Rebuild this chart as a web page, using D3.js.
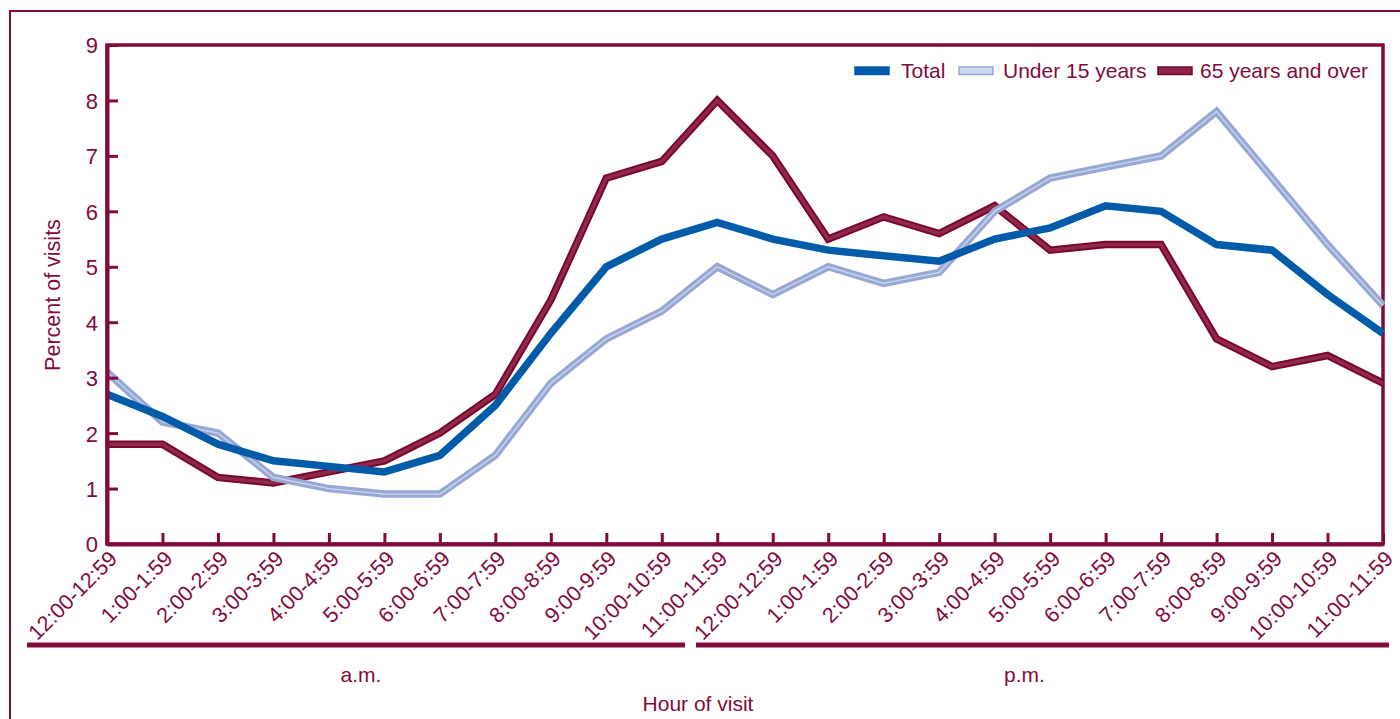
<!DOCTYPE html>
<html>
<head>
<meta charset="utf-8">
<script src="https://cdn.jsdelivr.net/npm/d3@7"></script>
<style>
  body { margin: 0; background: #fff; }
  svg text { font-family: "Liberation Sans", Arial, Helvetica, sans-serif; fill: #820a3c; }
</style>
</head>
<body>
<div id="chart"></div>
<script>
// hour ranges, first 12 are a.m., last 12 are p.m.
var hours = ["12:00-12:59", "1:00-1:59", "2:00-2:59", "3:00-3:59", "4:00-4:59", "5:00-5:59",
             "6:00-6:59", "7:00-7:59", "8:00-8:59", "9:00-9:59", "10:00-10:59", "11:00-11:59",
             "12:00-12:59", "1:00-1:59", "2:00-2:59", "3:00-3:59", "4:00-4:59", "5:00-5:59",
             "6:00-6:59", "7:00-7:59", "8:00-8:59", "9:00-9:59", "10:00-10:59", "11:00-11:59"];

var total   = [2.7, 2.3, 1.8, 1.5, 1.4, 1.3, 1.6, 2.5, 3.8, 5.0, 5.5, 5.8,
               5.5, 5.3, 5.2, 5.1, 5.5, 5.7, 6.1, 6.0, 5.4, 5.3, 4.5, 3.8];
var under15 = [3.1, 2.2, 2.0, 1.2, 1.0, 0.9, 0.9, 1.6, 2.9, 3.7, 4.2, 5.0,
               4.5, 5.0, 4.7, 4.9, 6.0, 6.6, 6.8, 7.0, 7.8, 6.6, 5.4, 4.3];
var over65  = [1.8, 1.8, 1.2, 1.1, 1.3, 1.5, 2.0, 2.7, 4.4, 6.6, 6.9, 8.0,
               7.0, 5.5, 5.9, 5.6, 6.1, 5.3, 5.4, 5.4, 3.7, 3.2, 3.4, 2.9];

var seriesNames = ["Total", "Under 15 years", "65 years and over"];
var periods = ["a.m.", "p.m."];
var yTicks = [0, 1, 2, 3, 4, 5, 6, 7, 8, 9];

var maroon = "#820a3c";
var width = 1400, height = 719;

var svg = d3.select("#chart").append("svg")
    .attr("width", width)
    .attr("height", height);

// outer frame (runs off the right and bottom edges)
svg.append("rect")
    .attr("x", 10).attr("y", 11)
    .attr("width", 1400).attr("height", 720)
    .attr("fill", "none")
    .attr("stroke", maroon)
    .attr("stroke-width", 2);

var x = d3.scaleLinear().domain([0, hours.length - 1]).range([107, 1383]);
var y = d3.scaleLinear().domain([0, 9]).range([544, 45]);

// plot box
svg.append("rect")
    .attr("x", x(0)).attr("y", y(9))
    .attr("width", x(23) - x(0)).attr("height", y(0) - y(9))
    .attr("fill", "none")
    .attr("stroke", maroon)
    .attr("stroke-width", 3.5);

var line = d3.line()
    .x(function(d, i) { return x(i); })
    .y(function(d) { return y(d); });

// 65 and over: dark outline with lighter core
svg.append("path").datum(over65)
    .attr("d", line).attr("fill", "none")
    .attr("stroke", "#7a0530").attr("stroke-width", 7.5);
svg.append("path").datum(over65)
    .attr("d", line).attr("fill", "none")
    .attr("stroke", "#8e2a48").attr("stroke-width", 3.5);

// under 15: light blue with pale core
svg.append("path").datum(under15)
    .attr("d", line).attr("fill", "none")
    .attr("stroke", "#97a8d5").attr("stroke-width", 7.5);
svg.append("path").datum(under15)
    .attr("d", line).attr("fill", "none")
    .attr("stroke", "#cfd8ed").attr("stroke-width", 1.3);

// total
svg.append("path").datum(total)
    .attr("d", line).attr("fill", "none")
    .attr("stroke", "#005ca8").attr("stroke-width", 7.5);

// y axis
var yAxis = svg.append("g")
    .attr("transform", "translate(" + x(0) + ",0)")
    .call(d3.axisLeft(y).tickValues(yTicks).tickSize(-11).tickSizeOuter(0).tickPadding(9));
yAxis.select(".domain").attr("stroke", maroon).attr("stroke-width", 4);
yAxis.selectAll(".tick line").attr("stroke", maroon).attr("stroke-width", 3);
yAxis.selectAll(".tick text").style("font-size", "22px").attr("dy", "0.36em");

// x axis
var xAxis = svg.append("g")
    .attr("transform", "translate(0," + y(0) + ")")
    .call(d3.axisBottom(x).tickValues(d3.range(hours.length)).tickSize(-11).tickSizeOuter(0)
        .tickFormat(function(i) { return hours[i]; }));
xAxis.select(".domain").attr("stroke", maroon).attr("stroke-width", 4);
xAxis.selectAll(".tick line").attr("stroke", maroon).attr("stroke-width", 3);
xAxis.selectAll(".tick text")
    .style("font-size", "21.5px")
    .attr("text-anchor", "end")
    .attr("dy", null)
    .attr("y", 0)
    .attr("transform", "translate(11,16) rotate(-45)");

// a.m. / p.m. bars
var split = (x(11) + x(12)) / 2 - 54;
var groups = [
  { name: periods[0], x0: x(0) - 80, x1: split - 6 },
  { name: periods[1], x0: split + 5, x1: x(23) + 6 }
];
svg.selectAll(".period-bar").data(groups).enter().append("line")
    .attr("class", "period-bar")
    .attr("x1", function(d) { return d.x0; })
    .attr("x2", function(d) { return d.x1; })
    .attr("y1", 645).attr("y2", 645)
    .attr("stroke", maroon).attr("stroke-width", 5);
svg.selectAll(".period-label").data(groups).enter().append("text")
    .attr("class", "period-label")
    .attr("x", function(d, i) { return i === 0 ? (d.x0 + d.x1) / 2 + 5 : (d.x0 + d.x1) / 2 - 18; })
    .attr("y", 682)
    .attr("text-anchor", "middle")
    .style("font-size", "21px")
    .text(function(d) { return d.name; });

svg.append("text")
    .attr("x", 698).attr("y", 711)
    .attr("text-anchor", "middle")
    .style("font-size", "21px")
    .text("Hour of visit");

svg.append("text")
    .attr("transform", "translate(60,295) rotate(-90)")
    .attr("text-anchor", "middle")
    .style("font-size", "21.5px")
    .text("Percent of visits");

// legend
var legendItems = [
  { name: seriesNames[0], sx: 855, tx: 901, fill: "#005ca8", stroke: "#005ca8" },
  { name: seriesNames[1], sx: 959, tx: 1003, fill: "#ccd6ec", stroke: "#97a8d5" },
  { name: seriesNames[2], sx: 1158, tx: 1200, fill: "#8c2644", stroke: "#7a0530" }
];
var leg = svg.append("g").attr("class", "legend");
leg.selectAll("rect").data(legendItems).enter().append("rect")
    .attr("x", function(d) { return d.sx; })
    .attr("y", 67)
    .attr("width", 34).attr("height", 7.5)
    .attr("fill", function(d) { return d.fill; })
    .attr("stroke", function(d) { return d.stroke; })
    .attr("stroke-width", 1.5);
leg.selectAll("text").data(legendItems).enter().append("text")
    .attr("x", function(d) { return d.tx; })
    .attr("y", 78)
    .style("font-size", "21px")
    .text(function(d) { return d.name; });
</script>
</body>
</html>
